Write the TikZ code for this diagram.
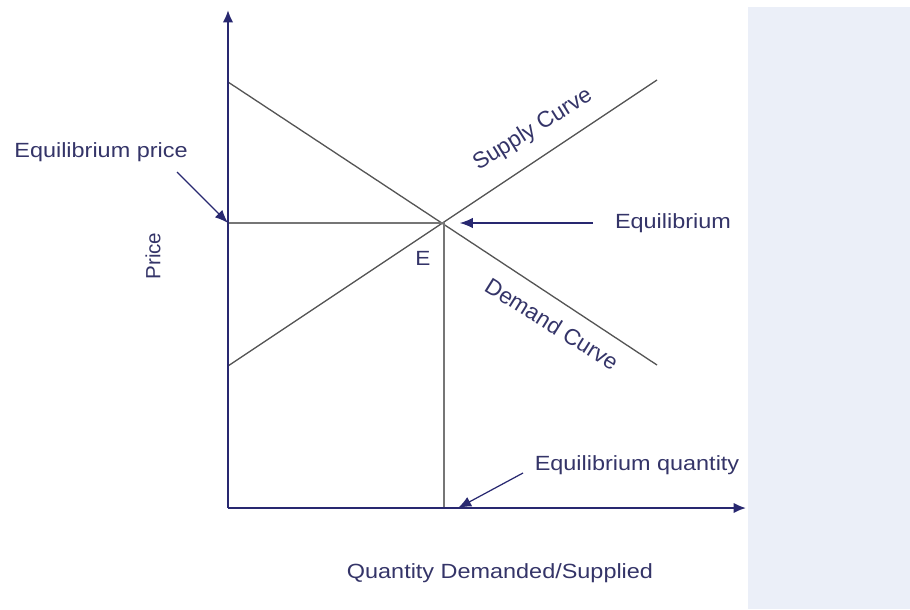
\documentclass[tikz,border=0pt]{standalone}
\usepackage{fontspec}
\setmainfont{Liberation Sans}
\usetikzlibrary{arrows.meta}

\definecolor{axisblue}{RGB}{40,40,112}
\definecolor{textblue}{RGB}{52,52,104}
\definecolor{curvegray}{RGB}{85,85,85}
\definecolor{guidegray}{RGB}{118,118,118}
\definecolor{panelblue}{RGB}{235,239,248}

\begin{document}
\begin{tikzpicture}[x=0.02cm, y=-0.02cm,
    axis/.style={draw=axisblue, line width=1.2pt, -{Latex[length=7pt, width=6pt]}},
    curve/.style={draw=curvegray, line width=0.75pt},
    guide/.style={draw=guidegray, line width=1.1pt},
    pointer/.style={draw=axisblue, line width=0.7pt, -{Latex[length=7.5pt, width=6pt]}},
    lbl/.style={text=textblue, font=\fontsize{11.7}{14}\selectfont, inner sep=0pt}]
    % 画布范围与右侧浅色背景条
    \useasboundingbox (0,0) rectangle (910,609);
    \fill[panelblue] (748,7) rectangle (910,609);

    % 坐标轴的端点与原点
    \coordinate (O) at (228,508);
    \coordinate (ytop) at (228,10);
    \coordinate (xend) at (746,508);

    % 需求曲线与供给曲线的端点，均衡点 E
    \coordinate (d1) at (228,82);
    \coordinate (d2) at (657,365);
    \coordinate (s1) at (228,366);
    \coordinate (s2) at (657,80);
    \coordinate (E) at (444,223);
    \coordinate (Ep) at (228,223);
    \coordinate (Eq) at (444,508);

    % 曲线与均衡点的辅助线
    \draw[curve] (d1) -- (d2);
    \draw[curve] (s1) -- (s2);
    \draw[guide] (Ep) -- (E) -- (Eq);

    % 坐标轴
    \draw[axis] (O) -- (ytop);
    \draw[axis] (O) -- (xend);

    % 文字标注
    \node[lbl, xscale=1.14] (pricelbl) at (101,152) {Equilibrium price};
    \node[lbl, xscale=1.14] (eqlbl) at (673,223) {Equilibrium};
    \node[lbl, xscale=1.14] (qtylbl) at (637,465) {Equilibrium quantity};
    \node[lbl, xscale=1.14] (xlbl) at (500,573) {Quantity Demanded/Supplied};
    \node[lbl, rotate=90] (ylbl) at (153,256) {Price};
    \node[lbl, xscale=1.1] (elbl) at (423,258) {E};
    \node[lbl, scale=1.1, rotate=32] (supplylbl) at (533,130) {Supply Curve};
    \node[lbl, scale=1.1, rotate=-32] (demandlbl) at (552,324) {Demand Curve};

    % 指向均衡位置的箭头
    \coordinate (eqtail) at (593,223);
    \coordinate (pricetail) at (177,172);
    \coordinate (qtytail) at (523,473);
    \draw[pointer] (eqtail) -- ([xshift=9] E);
    \draw[pointer] (pricetail) -- (Ep);
    \draw[pointer] (qtytail) -- ([xshift=8] Eq);
\end{tikzpicture}
\end{document}
